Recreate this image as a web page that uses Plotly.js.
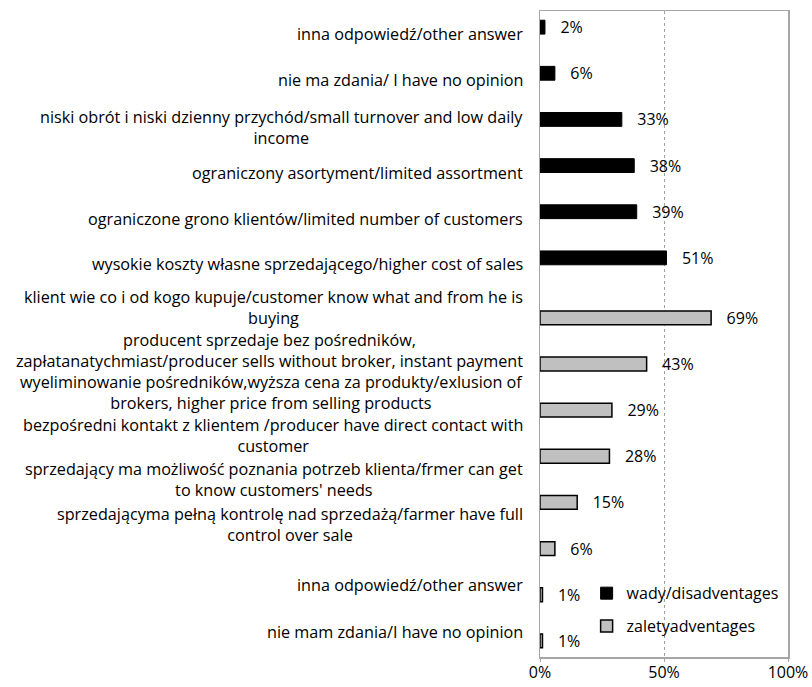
<!DOCTYPE html>
<html>
<head>
<meta charset="utf-8">
<script src="https://cdn.plot.ly/plotly-3.0.1.min.js"></script>
<style>html,body{margin:0;padding:0;background:#fff;}#chart{width:812px;height:687px;}</style>
</head>
<body>
<div id="chart"></div>
<script>
// Categories, top to bottom
const categories = [
  "inna odpowiedź/other answer",
  "nie ma zdania/ I have no opinion",
  "niski obrót i niski dzienny przychód/small turnover and low daily<br>income",
  "ograniczony asortyment/limited assortment",
  "ograniczone grono klientów/limited number of customers",
  "wysokie koszty własne sprzedającego/higher cost of sales",
  "klient wie co i od kogo kupuje/customer know what and from he is<br>buying",
  "producent sprzedaje bez pośredników,<br>zapłatanatychmiast/producer sells without broker, instant payment",
  "wyeliminowanie pośredników,wyższa cena za produkty/exlusion of<br>brokers, higher price from selling products",
  "bezpośredni kontakt z klientem /producer have direct contact with<br>customer",
  "sprzedający ma możliwość poznania potrzeb klienta/frmer can get<br>to know customers' needs",
  "sprzedającyma pełną kontrolę nad sprzedażą/farmer have full<br>control over sale",
  "inna odpowiedź/other answer",
  "nie mam zdania/I have no opinion"
];
// wady/disadvantages values (%), null where not applicable
const wady = [2, 6, 33, 38, 39, 51, null, null, null, null, null, null, null, null];
// zalety/advantages values (%)
const zalety = [null, null, null, null, null, null, 69, 43, 29, 28, 15, 6, 1, 1];
const seriesNames = ["wady/disadventages", "zaletyadventages"];
const xTickVals = [0, 50, 100];
const xTickText = ["0%", "50%", "100%"];

// layout-only: vertical pixel nudges (upward) of the category labels, as laid out in the original
const labelShift = [0, 0, -1, 0, 0, 1, 3, 7, 11, 14, 16, 17, 3, 2];

const FONT = "'Open Sans', Lato, sans-serif";
const idx = categories.map((_, i) => i);
const nb = "\u00a0\u00a0\u00a0";

const traces = [
  {
    type: "bar", orientation: "h", name: seriesNames[0], legendgroup: "a",
    y: idx, x: wady,
    marker: {color: "#000000", line: {color: "#000000", width: 1}},
    text: wady.map(v => v === null ? "" : nb + v + "%"),
    textposition: "outside", constraintext: "none", cliponaxis: false,
    outsidetextfont: {family: FONT, size: 16, color: "#000"},
    hoverinfo: "skip"
  },
  {
    type: "bar", orientation: "h", name: seriesNames[1], legendgroup: "b",
    y: idx, x: zalety,
    marker: {color: "#c0c0c0", line: {color: "#000000", width: 1.5}},
    text: zalety.map(v => v === null ? "" : nb + v + "%"),
    textposition: "outside", constraintext: "none", cliponaxis: false,
    outsidetextfont: {family: FONT, size: 16, color: "#000"},
    hoverinfo: "skip"
  }
];

const annotations = categories.map((c, i) => ({
  xref: "paper", yref: "y", x: -0.062, y: i, yshift: labelShift[i],
  text: c, showarrow: false, xanchor: "right", yanchor: "middle", align: "center",
  font: {family: FONT, size: 16.2, color: "#000"}
}));

const layout = {
  width: 812, height: 687,
  margin: {l: 540, r: 24, t: 11, b: 30},
  paper_bgcolor: "#fff", plot_bgcolor: "#fff",
  barmode: "group", bargap: 0.4, bargroupgap: 0,
  font: {family: FONT, size: 16, color: "#000"},
  xaxis: {
    range: [0, 100], tickvals: xTickVals, ticktext: xTickText,
    showgrid: true, gridcolor: "#a0a0a0", griddash: "dot", gridwidth: 1,
    showline: true, linecolor: "#a6a6a6", linewidth: 1.5, mirror: true,
    ticks: "outside", ticklen: 3, tickcolor: "#a6a6a6", ticklabelstandoff: -3,
    zeroline: false, fixedrange: true,
    tickfont: {family: FONT, size: 16, color: "#000"}
  },
  yaxis: {
    range: [13.5, -0.5], showticklabels: false, showgrid: false, zeroline: false,
    showline: true, linecolor: "#a6a6a6", linewidth: 1.5, mirror: true, ticks: "", fixedrange: true
  },
  legend: {
    x: 0.188, y: 0.125, xanchor: "left", yanchor: "top",
    bgcolor: "rgba(0,0,0,0)", borderwidth: 0, tracegroupgap: 9,
    font: {family: FONT, size: 16, color: "#000"}
  },
  showlegend: true,
  annotations: annotations
};

Plotly.newPlot("chart", traces, layout, {displayModeBar: false, staticPlot: true});
</script>
</body>
</html>
